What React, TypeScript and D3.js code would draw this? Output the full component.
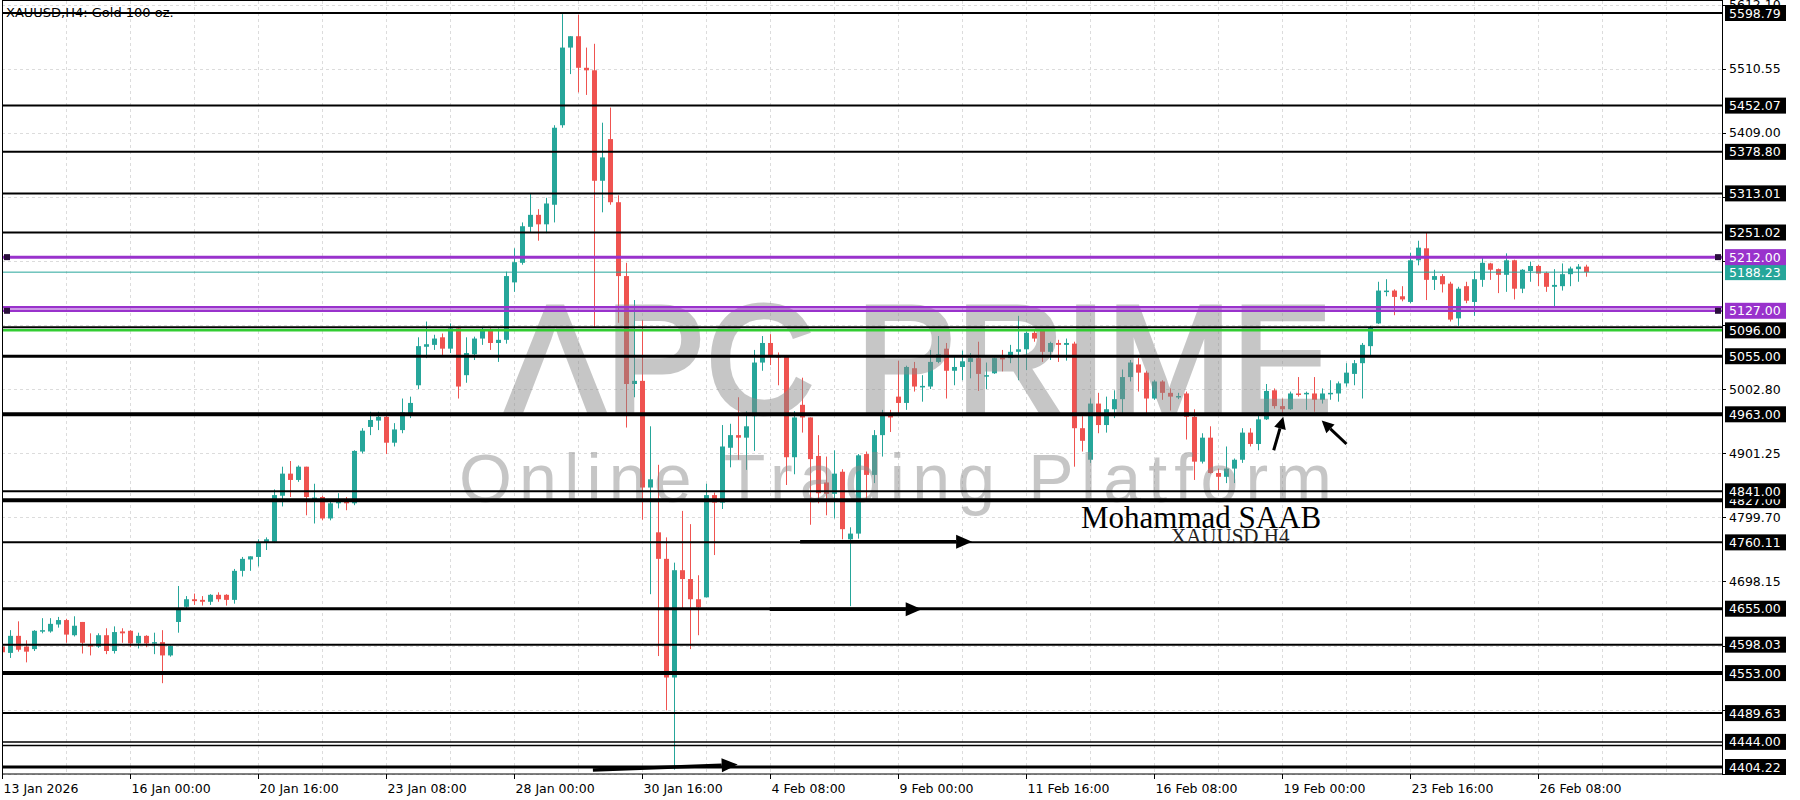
import React from 'react';
import * as d3 from 'd3';

// XAUUSD H4 candles (bar index = position)
const opens = [
  4595, 4585, 4612, 4595, 4591, 4619, 4619, 4630, 4637, 4613, 4634, 4599, 4595, 4613, 4588, 4619, 4620, 4600, 4612, 4601,
  4602, 4581, 4634, 4658, 4670, 4669, 4666, 4677, 4677, 4669, 4715, 4733, 4737, 4760, 4761, 4834, 4869, 4859, 4880, 4829,
  4832, 4798, 4822, 4825, 4822, 4904, 4943, 4953, 4959, 4918, 4938, 4964, 5009, 5070, 5073, 5085, 5067, 5099, 5025, 5058,
  5083, 5095, 5076, 5081, 5172, 5203, 5260, 5279, 5264, 5295, 5421, 5544, 5562, 5512, 5508, 5333, 5399, 5299, 5182, 5011,
  5016, 4847, 4776, 4734, 4546, 4716, 4702, 4670, 4673, 4835, 4823, 4910, 4930, 4926, 4960, 5045, 5076, 5057, 5055, 4895,
  4978, 4958, 4897, 4855, 4837, 4872, 4765, 4774, 4900, 4867, 4930, 4962, 4991, 4981, 5036, 5007, 5007, 5046, 5067, 5032,
  5038, 5046, 5052, 5024, 5028, 5053, 5052, 5062, 5066, 5092, 5095, 5062, 5076, 5073, 5075, 4941, 4891, 4980, 4946, 4971,
  4987, 5022, 5042, 5029, 4988, 5015, 4997, 4990, 4996, 4959, 4888, 4926, 4870, 4864, 4877, 4891, 4934, 4916, 4955, 5001,
  4976, 4971, 4996, 4995, 4996, 4986, 4995, 4996, 5012, 5027, 5044, 5071, 5107, 5157, 5159, 5150, 5141, 5207, 5226, 5176,
  5182, 5170, 5115, 5166, 5141, 5176, 5202, 5193, 5184, 5207, 5162, 5190, 5198, 5187, 5165, 5166, 5185, 5193, 5197,
];
const highs = [
  4597, 4621, 4635, 4605, 4621, 4640, 4640, 4642, 4639, 4643, 4634, 4616, 4616, 4624, 4627, 4624, 4621, 4617, 4613, 4617,
  4621, 4597, 4691, 4675, 4679, 4675, 4678, 4681, 4678, 4718, 4737, 4738, 4765, 4768, 4844, 4880, 4889, 4882, 4880, 4853,
  4834, 4825, 4838, 4832, 4906, 4941, 4967, 4967, 4962, 4949, 4988, 4991, 5085, 5110, 5089, 5091, 5107, 5099, 5085, 5086,
  5101, 5099, 5099, 5189, 5226, 5267, 5313, 5288, 5306, 5421, 5597, 5562, 5596, 5544, 5550, 5425, 5449, 5310, 5203, 5144,
  5112, 4944, 4883, 4768, 4728, 4810, 4789, 4708, 4853, 4839, 4946, 4948, 4990, 4968, 5065, 5087, 5090, 5061, 5057, 4968,
  5021, 4958, 4930, 4896, 4906, 4876, 4784, 4900, 4904, 4938, 4970, 4970, 5048, 5040, 5046, 5025, 5065, 5087, 5076, 5054,
  5064, 5060, 5078, 5045, 5053, 5065, 5073, 5119, 5094, 5095, 5098, 5078, 5081, 5083, 5078, 4960, 4988, 4997, 4991, 5001,
  5034, 5049, 5052, 5032, 5017, 5017, 5004, 4997, 4999, 4971, 4933, 4944, 4877, 4912, 4893, 4941, 4941, 4962, 5011, 5004,
  4988, 4999, 5022, 4999, 5022, 5004, 5017, 5015, 5044, 5049, 5076, 5103, 5173, 5177, 5161, 5166, 5219, 5238, 5251, 5192,
  5185, 5173, 5165, 5173, 5190, 5212, 5203, 5194, 5218, 5208, 5193, 5205, 5200, 5189, 5193, 5202, 5197, 5201, 5200,
];
const lows = [
  4583, 4577, 4587, 4570, 4588, 4616, 4617, 4625, 4601, 4611, 4584, 4581, 4593, 4583, 4584, 4601, 4594, 4592, 4594, 4583,
  4537, 4579, 4617, 4656, 4661, 4660, 4661, 4666, 4660, 4663, 4706, 4715, 4722, 4748, 4759, 4817, 4832, 4856, 4803, 4790,
  4795, 4795, 4814, 4811, 4819, 4901, 4930, 4938, 4900, 4912, 4933, 4957, 5003, 5052, 5065, 5057, 5060, 4988, 5013, 5049,
  5073, 5065, 5046, 5075, 5157, 5200, 5252, 5238, 5250, 5267, 5417, 5502, 5473, 5469, 5100, 5283, 5295, 5108, 4942, 4990,
  4796, 4678, 4580, 4494, 4400, 4653, 4591, 4613, 4673, 4740, 4813, 4879, 4891, 4875, 4905, 5032, 5041, 5009, 4851, 4868,
  4934, 4788, 4822, 4803, 4798, 4765, 4659, 4766, 4827, 4854, 4896, 4935, 4964, 4970, 4999, 4983, 5003, 5044, 4988, 5009,
  5017, 5020, 5000, 5003, 5027, 5031, 5044, 5017, 5033, 5078, 5046, 5049, 5046, 5048, 4880, 4904, 4886, 4933, 4934, 4957,
  4964, 5015, 4999, 4964, 4986, 4986, 4969, 4987, 4923, 4859, 4885, 4869, 4843, 4854, 4854, 4886, 4912, 4906, 4954, 4972,
  4964, 4970, 4991, 4970, 4967, 4980, 4986, 4983, 5007, 5009, 4988, 5057, 5106, 5150, 5120, 5142, 5139, 5199, 5144, 5160,
  5156, 5110, 5103, 5139, 5119, 5165, 5176, 5155, 5157, 5145, 5155, 5173, 5166, 5157, 5132, 5159, 5166, 5173, 5181,
];
const closes = [
  4586, 4612, 4590, 4587, 4620, 4621, 4631, 4637, 4614, 4628, 4601, 4595, 4613, 4588, 4618, 4616, 4600, 4612, 4600, 4602,
  4581, 4596, 4653, 4670, 4667, 4666, 4677, 4670, 4669, 4715, 4734, 4738, 4760, 4765, 4835, 4869, 4859, 4880, 4832, 4831,
  4798, 4822, 4825, 4822, 4905, 4937, 4954, 4959, 4918, 4939, 4966, 4981, 5071, 5074, 5083, 5067, 5099, 5007, 5060, 5083,
  5098, 5076, 5081, 5182, 5204, 5261, 5279, 5264, 5297, 5417, 5544, 5562, 5512, 5508, 5333, 5370, 5299, 5182, 5011, 5016,
  4847, 4860, 4734, 4546, 4716, 4702, 4670, 4657, 4835, 4823, 4912, 4930, 4926, 4944, 5045, 5076, 5055, 5053, 4895, 4958,
  4958, 4892, 4838, 4837, 4869, 4781, 4774, 4898, 4867, 4930, 4962, 4958, 4981, 5038, 5007, 5008, 5046, 5058, 5032, 5038,
  5047, 5052, 5027, 5025, 5052, 5050, 5062, 5066, 5092, 5083, 5062, 5076, 5073, 5076, 4941, 4921, 4980, 4946, 4971, 4987,
  5022, 5045, 5029, 4988, 5015, 4997, 4991, 4992, 4959, 4888, 4926, 4870, 4864, 4877, 4891, 4934, 4916, 4955, 5000, 4976,
  4971, 4996, 4994, 4997, 4986, 4996, 4997, 5012, 5029, 5044, 5073, 5101, 5159, 5159, 5149, 5145, 5207, 5227, 5176, 5182,
  5169, 5113, 5162, 5143, 5177, 5203, 5192, 5184, 5207, 5162, 5192, 5198, 5186, 5165, 5168, 5185, 5194, 5197, 5188.23,
];

const dateTicks = [0, 16, 32, 48, 64, 80, 96, 112, 128, 144, 160, 176, 192];
const dateLabels = [
  '13 Jan 2026', '16 Jan 00:00', '20 Jan 16:00', '23 Jan 08:00', '28 Jan 00:00', '30 Jan 16:00', '4 Feb 08:00',
  '9 Feb 00:00', '11 Feb 16:00', '16 Feb 08:00', '19 Feb 00:00', '23 Feb 16:00', '26 Feb 08:00',
];

const gridPrices = [5612.1, 5510.55, 5409.0, 5307.45, 5205.9, 5104.35, 5002.8, 4901.25, 4799.7, 4698.15, 4596.6, 4495.05, 4393.5];

// horizontal levels drawn on the chart
const levelPrices = [
  4404.22, 4444.0, 4489.63, 4553.0, 4598.03, 4655.0, 4760.11, 4827.0, 4841.0, 4963.0,
  5055.0, 5096.0, 5127.0, 5188.23, 5212.0, 5251.02, 5313.01, 5378.8, 5452.07, 5598.79,
];

// annotation arrows: [bar from, price from, bar to, price to]
const arrows: [number, number, number, number][] = [
  [99.7, 4761, 121.2, 4761],
  [95.9, 4654, 114.9, 4654],
  [73.8, 4399.5, 91.9, 4408],
  [158.9, 4906, 160.1, 4959],
  [168, 4916, 164.9, 4953],
];

const W = 1800;
const H = 800;
const left = 2;
const right = 1722;
const bottom = 774;

const BULL = '#26a69a';
const BEAR = '#ef5350';
const PURPLE = '#9932cc';
const FONT = '"DejaVu Sans", Tahoma, sans-serif';

type LevelStyle = { color: string; width: number; box: string; extra?: { dy: number; color: string; width: number }[]; marks?: boolean };

const levelStyle = (p: number): LevelStyle => {
  const black = (w: number): LevelStyle => ({ color: '#000', width: w, box: '#000' });
  switch (p) {
    case 5212.0: return { color: PURPLE, width: 3, box: PURPLE, marks: true };
    case 5127.0: return { color: PURPLE, width: 2.5, box: PURPLE, marks: true, extra: [{ dy: -3.5, color: PURPLE, width: 2.5 }] };
    case 5188.23: return { color: BULL, width: 1, box: BULL };
    case 5096.0: return { color: '#32cd32', width: 2.5, box: '#000', extra: [{ dy: -3, color: '#000', width: 2 }] };
    case 4444.0: return { color: '#000', width: 1.5, box: '#000', extra: [{ dy: 3.5, color: '#000', width: 1.5 }] };
    case 4963.0: case 4827.0: case 4553.0: return black(4);
    case 5055.0: case 4655.0: case 4404.22: return black(3);
    default: return black(2);
  }
};

export default function App() {
  const n = opens.length;
  const x = d3.scaleLinear().domain([0, 215]).range([2.5, 1722.5]);
  const y = d3.scaleLinear().domain([4404.22, 5598.79]).range([767, 13]);
  const bars = d3.range(n);
  const vGrid = d3.range(8, 215, 8);
  // grid labels hidden behind a level box are not drawn
  const freeGrid = gridPrices.filter((g) => g > 5600 || levelPrices.every((p) => Math.abs(y(p) - y(g)) > 15));

  return (
    <div style={{ position: 'fixed', left: 0, top: 0, width: W, height: H, background: '#fff' }}>
      <svg width={W} height={H} style={{ display: 'block' }}>
        <defs>
          <clipPath id="plot">
            <rect x={left} y={0} width={right - left} height={bottom} />
          </clipPath>
        </defs>
        <rect x={0} y={0} width={W} height={H} fill="#fff" />

        {/* grid */}
        <g stroke="#dcdcdc" strokeDasharray="3,3" strokeWidth={1}>
          {vGrid.map((k) => (
            <line key={'v' + k} x1={x(k)} x2={x(k)} y1={1} y2={bottom} />
          ))}
          {gridPrices.map((p) => (
            <line key={'h' + p} x1={left} x2={right} y1={Math.round(y(p)) + 0.5} y2={Math.round(y(p)) + 0.5} />
          ))}
        </g>

        {/* candles */}
        <g clipPath="url(#plot)">
          {bars.map((i) => {
            const up = closes[i] >= opens[i];
            const c = up ? BULL : BEAR;
            const cx = x(i);
            const top = y(Math.max(opens[i], closes[i]));
            const bot = y(Math.min(opens[i], closes[i]));
            return (
              <g key={i}>
                <line x1={cx} x2={cx} y1={y(highs[i])} y2={y(lows[i])} stroke={c} strokeWidth={1} />
                <rect x={cx - 2.5} y={top} width={5} height={Math.max(1.5, bot - top)} fill={c} />
              </g>
            );
          })}
        </g>

        {/* watermark */}
        <g fill="#8a8a8a" opacity={0.48} fontFamily='"Liberation Sans", Arial, sans-serif'>
          <text x={505} y={413} fontSize={154} textLength={827} lengthAdjust="spacingAndGlyphs" stroke="#8a8a8a" strokeWidth={5}>ΛPC PRIME</text>
          <text x={459} y={502} fontSize={68} textLength={873} lengthAdjust="spacing">Online Trading Platform</text>
        </g>

        {/* levels */}
        <g clipPath="url(#plot)">
          {levelPrices.map((p) => {
            const s = levelStyle(p);
            const yy = y(p);
            return (
              <g key={'l' + p}>
                {(s.extra || []).map((e, j) => (
                  <line key={j} x1={left} x2={right} y1={yy + e.dy} y2={yy + e.dy} stroke={e.color} strokeWidth={e.width} />
                ))}
                <line x1={left} x2={right} y1={yy} y2={yy} stroke={s.color} strokeWidth={s.width} />
                {s.marks && (
                  <>
                    <rect x={left + 2} y={yy - 3} width={6} height={6} fill="#2a0f3c" />
                    <rect x={right - 7} y={yy - 3} width={6} height={6} fill="#2a0f3c" />
                  </>
                )}
              </g>
            );
          })}
        </g>

        {/* frame */}
        <rect x={left + 0.5} y={0.5} width={right - left} height={bottom - 0.5} fill="none" stroke="#000" strokeWidth={1} />

        {/* title */}
        <text x={6} y={17} fontFamily={FONT} fontSize={13} fill="#000">XAUUSD,H4:  Gold 100 oz.</text>

        {/* annotations */}
        <text x={1081} y={528} fontFamily='"Liberation Serif", "Times New Roman", serif' fontSize={31} fill="#000">Mohammad SAAB</text>
        <text x={1171} y={543} fontFamily='"Liberation Serif", "Times New Roman", serif' fontSize={21} fill="#222">XAUUSD H4</text>
        {arrows.map(([b0, p0, b1, p1], i) => {
          const x0 = x(b0), y0 = y(p0), x1 = x(b1), y1 = y(p1);
          const ang = Math.atan2(y1 - y0, x1 - x0);
          const big = i < 3;
          const hl = big ? 16 : 12;
          const hw = big ? 7 : 6;
          const bx = x1 - hl * Math.cos(ang), by = y1 - hl * Math.sin(ang);
          const px = -Math.sin(ang), py = Math.cos(ang);
          const head = `${x1},${y1} ${bx + hw * px},${by + hw * py} ${bx - hw * px},${by - hw * py}`;
          return (
            <g key={'a' + i}>
              <line x1={x0} y1={y0} x2={bx} y2={by} stroke="#000" strokeWidth={big ? 3.5 : 3} />
              <polygon points={head} fill="#000" />
            </g>
          );
        })}

        {/* price axis */}
        <g fontFamily={FONT} fontSize={12.5}>
          {gridPrices.map((p) => (
            <line key={'t' + p} x1={right} x2={right + 4} y1={Math.round(y(p)) + 0.5} y2={Math.round(y(p)) + 0.5} stroke="#000" />
          ))}
          {freeGrid.map((p) => (
            <text key={'g' + p} x={1729} y={y(p) + 4.5} fill="#000">{p.toFixed(2)}</text>
          ))}
          {levelPrices.map((p) => {
            const s = levelStyle(p);
            return (
              <g key={'b' + p}>
                <rect x={1725} y={y(p) - 8} width={61} height={16} fill={s.box} />
                <text x={1729} y={y(p) + 4.5} fill="#fff">{p.toFixed(2)}</text>
              </g>
            );
          })}
        </g>

        {/* time axis */}
        <g fontFamily={FONT} fontSize={12.5} fill="#000">
          {dateTicks.map((k, i) => (
            <g key={'d' + k}>
              <line x1={x(k)} x2={x(k)} y1={bottom} y2={bottom + 5} stroke="#000" />
              <text x={x(k) + 1} y={793}>{dateLabels[i]}</text>
            </g>
          ))}
        </g>
      </svg>
    </div>
  );
}
